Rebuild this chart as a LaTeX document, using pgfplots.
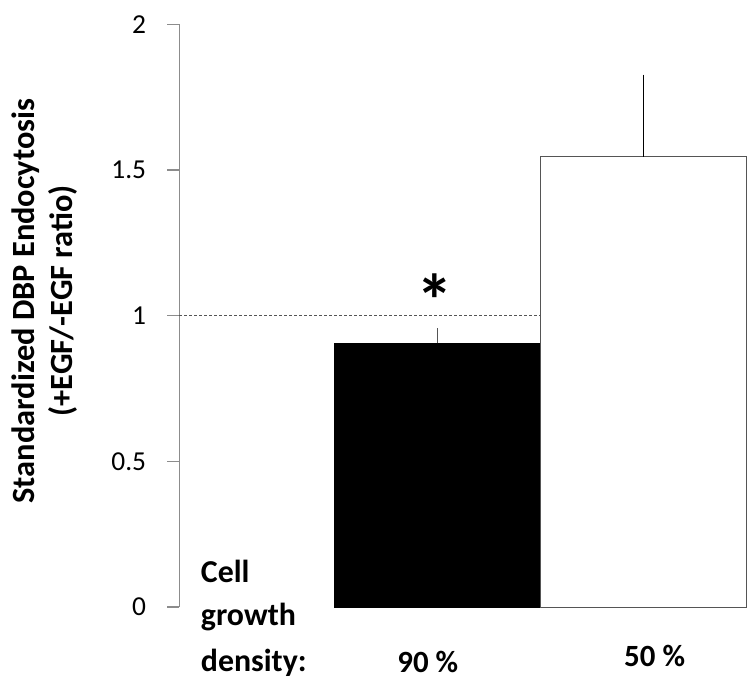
\documentclass[border=0pt]{standalone}
\usepackage{fontspec}
\setmainfont{Carlito}
\usepackage{pgfplots}
\pgfplotsset{compat=1.18}
\definecolor{axgray}{RGB}{140,140,140}
\definecolor{edgegray}{RGB}{85,85,85}
\begin{document}
\begin{tikzpicture}
\begin{axis}[
  name=ax,
  scale only axis,
  width=566.7bp, height=582.7bp,
  xmin=-0.253, xmax=2.5,
  ymin=0, ymax=2,
  axis y line*=left,
  axis x line*=bottom,
  x axis line style={draw=none},
  y axis line style={draw=axgray, line width=1.2bp, -},
  ytick={0,0.5,1,1.5,2},
  yticklabels={0,0.5,1,1.5,2},
  xtick={0.954,2.056},
  xticklabels={{90 \%},{\raisebox{6bp}{50 \%}}},
  x tick style={draw=none},
  y tick style={draw=axgray, line width=1.2bp},
  tick align=outside,
  major tick length=12bp,
  yticklabel style={font=\fontsize{27.5}{30}\selectfont, inner sep=0pt, xshift=-21bp},
  xticklabel style={font=\bfseries\fontsize{31}{34}\selectfont, anchor=base, yshift=-53bp},
  /pgf/number format/assume math mode=true,
  clip=false,
]
\addplot[dashed, dash pattern=on 3bp off 2bp, draw=edgegray, line width=0.9bp] coordinates {(-0.253,1) (2.5,1)};
\addplot[ybar, bar width=1, bar shift=0pt, fill=black, draw=black, line width=0.8bp,
  error bars/.cd, y dir=plus, y explicit,
  error bar style={draw=edgegray, line width=1bp},
  error mark options={draw=edgegray, mark size=3.5bp, line width=1bp}]
  coordinates {(1,0.905) +- (0,0.04)};
\addplot[ybar, bar width=1, bar shift=0pt, fill=white, draw=edgegray, line width=1bp,
  error bars/.cd, y dir=plus, y explicit,
  error bar style={draw=black, line width=1bp},
  error mark options={draw=black, mark size=3.5bp, line width=1bp}]
  coordinates {(2,1.545) +- (0,0.27)};
\node[font=\bfseries\fontsize{74}{74}\selectfont, inner sep=0pt, anchor=north] at (axis cs:0.99,1.146) {*};
\end{axis}
\begin{scope}[font=\bfseries\fontsize{32}{35}\selectfont]
\node[anchor=base west, inner sep=0pt] at ([xshift=21.4bp, yshift=24.3bp]ax.south west) {Cell};
\node[anchor=base west, inner sep=0pt] at ([xshift=21.4bp, yshift=-18.7bp]ax.south west) {growth};
\node[anchor=base west, inner sep=0pt] at ([xshift=21.4bp, yshift=-64bp]ax.south west) {density:};
\end{scope}
\begin{scope}[font=\bfseries\fontsize{32.5}{35}\selectfont]
\node[rotate=90, anchor=base, inner sep=0pt] at ([xshift=-144.3bp, yshift=306bp]ax.south west) {Standardized DBP Endocytosis};
\node[rotate=90, anchor=base, inner sep=0pt] at ([xshift=-106.6bp, yshift=306bp]ax.south west) {(+EGF/-EGF ratio)};
\end{scope}
\pgfresetboundingbox
\path ([xshift=-179.3bp, yshift=-72bp]ax.south west) rectangle ([xshift=3bp, yshift=24.3bp]ax.north east);
\end{tikzpicture}
\end{document}
